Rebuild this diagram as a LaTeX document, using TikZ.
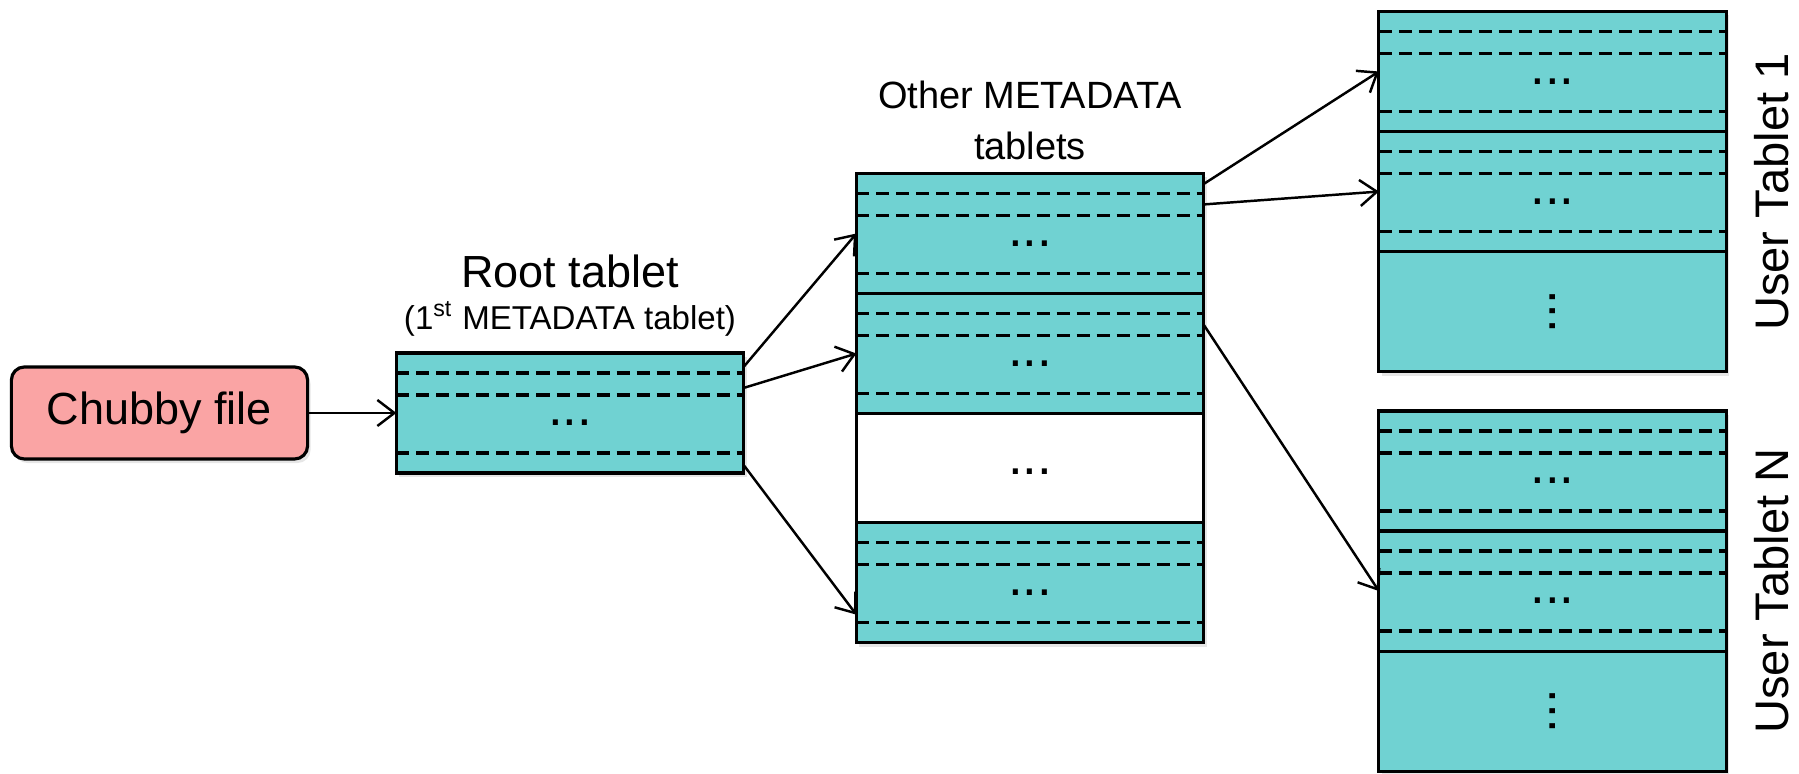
\documentclass[tikz,border=0pt]{standalone}
\usepackage{fontspec}
\setmainfont{Liberation Sans}
\usetikzlibrary{arrows.meta,positioning,calc,shadows}
\definecolor{tabcyan}{RGB}{112,210,210}
\definecolor{chubbypink}{RGB}{250,164,164}
\begin{document}
\begin{tikzpicture}[x=0.01cm, y=-0.01cm,
    boxshadow/.style = {drop shadow={opacity=0.2,shadow xshift=0.03cm,shadow yshift=-0.04cm}},
    tablet/.style = {draw, line width=0.9pt, fill=tabcyan, minimum width=3.47cm,
                     minimum height=1.2cm, inner sep=0pt, outer sep=0pt, boxshadow},
    gapbox/.style = {tablet, fill=white, minimum height=1.09cm},
    chubbybox/.style = {draw, line width=0.9pt, fill=chubbypink, rounded corners=0.13cm,
                        minimum width=2.96cm, minimum height=0.92cm, outer sep=0pt,
                        font=\fontsize{12.8}{15}\selectfont, boxshadow},
    rowline/.style = {line width=0.9pt, dash pattern=on 0.13cm off 0.07cm},
    arrow/.style = {line width=0.7pt, -{Straight Barb[length=1.7mm,width=2.6mm]}},
    dotsnode/.style = {inner sep=0pt, font=\fontsize{15}{18}\selectfont}]
    \useasboundingbox (0,0) rectangle (1799,774);

    % chubby file and root tablet
    \node[chubbybox] (chubby) at (159.5,413) {Chubby file};
    \node[tablet] (rt) at (570,413) {};
    \node (rtname) at (570,271) {\fontsize{12.8}{15}\selectfont Root tablet};
    \node (rtsub) at (570,319) {\fontsize{9.4}{11}\selectfont (1\textsuperscript{st} METADATA tablet)};

    % other metadata tablets
    \node[tablet] (m1) at (1030,233.5) {};
    \node[tablet, below=0pt of m1] (m2) {};
    \node[gapbox, below=0pt of m2] (mgap) {};
    \node[tablet, below=0pt of mgap] (m3) {};
    \node[dotsnode] (mgap-dots) at ($(mgap)+(0,4)$) {...};
    \node[align=center, font=\fontsize{10.8}{14.5}\selectfont] (mname) at (1030,120)
        {Other METADATA\\tablets};

    % user tablets
    \node[tablet] (ut1a) at (1552.5,71.5) {};
    \node[tablet, below=0pt of ut1a] (ut1b) {};
    \node[tablet, below=0pt of ut1b] (ut1c) {};
    \node[tablet] (utNa) at (1552.5,471) {};
    \node[tablet, below=0pt of utNa] (utNb) {};
    \node[tablet, below=0pt of utNb] (utNc) {};
    \node[dotsnode, rotate=90] (ut1c-dots) at (ut1c) {...};
    \node[dotsnode, rotate=90] (utNc-dots) at (utNc) {...};
    \node[rotate=90, font=\fontsize{13.4}{16}\selectfont] (ut1name) at (1772,192) {User Tablet 1};
    \node[rotate=90, font=\fontsize{13.4}{16}\selectfont] (utNname) at (1772,591) {User Tablet N};

    % rows inside the tablets
    \foreach \b in {rt,m1,m2,m3,ut1a,ut1b,utNa,utNb} {
        \foreach \d in {20,42,100}
            \draw[rowline] ($(\b.north west)+(0,\d)$) -- ($(\b.north east)+(0,\d)$);
        \node[dotsnode] (\b-dots) at ($(\b.north)+(0,70)$) {...};
    }

    % pointers
    \draw[arrow] (chubby.east) -- (rt.west);
    \draw[arrow] ($(rt.north east)+(0,14)$) -- (m1.west);
    \draw[arrow] ($(rt.north east)+(0,35)$) -- (m2.west);
    \draw[arrow] ($(rt.north east)+(0,112)$) -- ($(m3.north west)+(0,92)$);
    \draw[arrow] ($(m1.north east)+(0,10.6)$) -- (ut1a.west);
    \draw[arrow] ($(m1.north east)+(0,31)$) -- (ut1b.west);
    \draw[arrow] ($(m2.north east)+(0,31)$) -- (utNb.west);
\end{tikzpicture}
\end{document}
